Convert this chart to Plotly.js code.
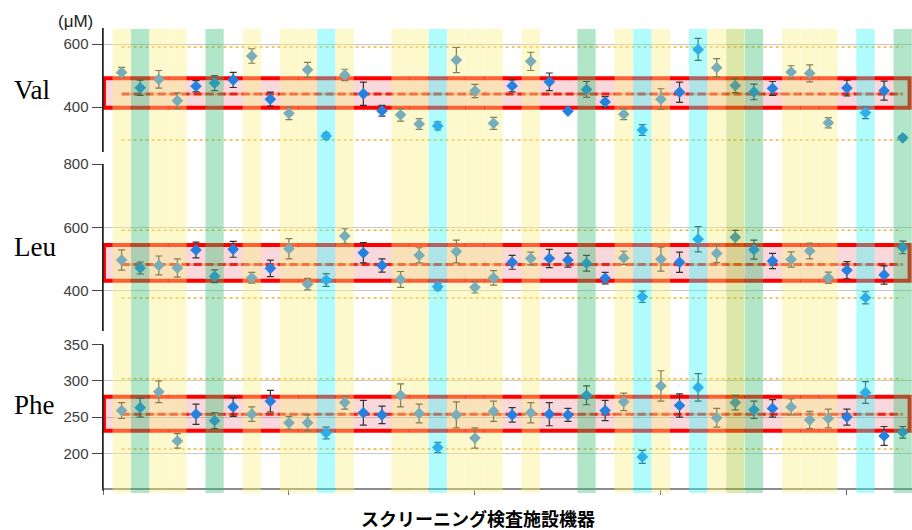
<!DOCTYPE html>
<html>
<head>
<meta charset="utf-8">
<script src="https://cdn.plot.ly/plotly-3.0.1.min.js"></script>
<style>
  html, body { margin: 0; padding: 0; background: #fff; }
  #chart { width: 912px; height: 530px; }
</style>
</head>
<body>
<div id="chart"></div>
<script>
// Instrument number on the x axis
const instruments = [1,2,3,4,5,6,7,8,9,10,11,12,13,14,15,16,17,18,19,20,21,22,23,24,25,26,27,28,29,30,31,32,33,34,35,36,37,38,39,40,41,42,43];

// Measured concentrations (μM) and error half-widths per instrument
const valValues = [510,461,488,420,466,476,486,562,425,380,518,308,502,442,388,375,346,340,549,451,348,467,545,480,387,456,416,377,327,425,447,583,525,468,448,459,511,507,350,460,382,452,302];
const valErrors = [16,24,28,25,18,24,24,23,22,20,24,10,18,37,17,20,17,13,40,21,19,19,29,28,5,25,17,17,17,33,32,35,29,22,25,22,20,27,16,25,19,30,7];

const leuValues = [497,472,480,472,529,446,531,441,471,533,421,434,573,520,480,436,512,413,524,411,441,490,502,502,497,487,440,504,381,500,490,563,518,569,530,494,499,526,441,465,378,450,537];
const leuErrors = [32,19,30,29,25,20,25,17,26,32,18,20,23,32,21,25,24,10,36,18,23,22,20,29,22,25,18,21,18,38,32,40,29,22,30,24,24,25,18,27,19,29,20];

const pheValues = [259,263,285,217,254,245,264,254,272,242,242,228,270,256,253,280,255,208,253,221,258,253,256,254,253,280,259,271,195,293,266,291,249,270,260,262,264,246,248,250,284,224,229];
const pheErrors = [11,13,15,10,14,11,13,10,15,9,11,8,9,17,12,16,13,7,18,14,14,10,14,16,9,13,14,12,9,21,16,19,13,10,12,12,11,12,13,11,15,13,8];

// Instrument group of each column (Y, G, C, O; '' = none)
const instrumentGroup = ['Y','G','Y','Y','','G','','Y','','Y','Y','C','Y','','','Y','Y','C','Y','Y','Y','','Y','','','G','','Y','C','Y','','C','Y','O','G','','Y','Y','Y','','C','','G'];

// Reference levels per analyte: Val, Leu, Phe
const panelNames = ['Val', 'Leu', 'Phe'];
const refMean  = [441, 483, 254];
const boxLow   = [398, 432, 231];
const boxHigh  = [491, 545, 278];
const limLow   = [295, 377, 206];
const limHigh  = [591, 591, 303];

const groupColor = {
  Y: 'rgb(250,240,130)',
  G: 'rgb(62,192,118)',
  C: 'rgb(58,247,247)',
  O: 'rgb(168,198,40)'
};

// vertical extent of each panel (paper fraction)
const panelDomains = [[0.7304, 1], [0.3413, 0.7043], [0, 0.312]];

const panels = [
  { y: valValues, e: valErrors, axis: 'y'  },
  { y: leuValues, e: leuErrors, axis: 'y2' },
  { y: pheValues, e: pheErrors, axis: 'y3' }
];

const xFirst = instruments[0];
const xLast = instruments[instruments.length - 1];

const traces = [];
const shapes = [];

panels.forEach((p, i) => {
  // target band
  shapes.push({
    type: 'rect', layer: 'between',
    xref: 'x', yref: p.axis,
    x0: 0.05, x1: 43.37, y0: boxLow[i], y1: boxHigh[i],
    fillcolor: 'rgba(220,60,80,0.2)',
    line: { color: '#ff0000', width: 4 }
  });
  // outer limits
  [limLow[i], limHigh[i]].forEach(v => {
    traces.push({
      type: 'scatter', mode: 'lines', xaxis: 'x', yaxis: p.axis,
      x: [xFirst, xLast], y: [v, v], hoverinfo: 'skip',
      line: { color: '#f3b23a', width: 1.5, dash: 'dot' }
    });
  });
  // mean: soft orange underlay with red dashes on top
  traces.push({
    type: 'scatter', mode: 'lines', xaxis: 'x', yaxis: p.axis,
    x: [xFirst, xLast], y: [refMean[i], refMean[i]], hoverinfo: 'skip',
    line: { color: 'rgba(245,140,90,0.75)', width: 2.5 }
  });
  traces.push({
    type: 'scatter', mode: 'lines', xaxis: 'x', yaxis: p.axis,
    x: [xFirst, xLast], y: [refMean[i], refMean[i]], hoverinfo: 'skip',
    line: { color: '#e8231c', width: 3, dash: '8px,4px' }
  });
  // measurements
  traces.push({
    type: 'scatter', mode: 'markers', xaxis: 'x', yaxis: p.axis,
    x: instruments, y: p.y,
    error_y: { type: 'data', array: p.e, visible: true, color: '#333333', thickness: 1.2, width: 3.5 },
    marker: { symbol: 'diamond', size: 9, color: '#2680e0' }
  });
  // left axis line of this panel
  shapes.push({
    type: 'line', layer: 'above', xref: 'paper', yref: 'paper',
    x0: 0, x1: 0, y0: panelDomains[i][0] - (i === 2 ? 0.006 : 0), y1: panelDomains[i][1],
    line: { color: '#222', width: 1.5 }
  });
});

// instrument group columns drawn translucent over everything
instruments.forEach((x, k) => {
  const g = instrumentGroup[k];
  if (!g) return;
  shapes.push({
    type: 'rect', layer: 'above',
    xref: 'x', yref: 'paper',
    x0: x - 0.49, x1: x + 0.49, y0: -0.011, y1: 0.998,
    fillcolor: groupColor[g], opacity: 0.4,
    line: { width: 0 }
  });
});

const yCommon = {
  anchor: 'x',
  showline: true, linecolor: '#222', linewidth: 1.5,
  ticks: 'outside', ticklen: 10, tickcolor: '#444', tickwidth: 1,
  tickfont: { family: 'Liberation Sans, Arial, sans-serif', size: 15, color: '#3c3c3c' },
  showgrid: true, gridcolor: '#c8c8c8', gridwidth: 1,
  zeroline: false, fixedrange: true
};

const layout = {
  width: 912, height: 530,
  margin: { l: 103, r: 0, t: 28, b: 42, pad: 0 },
  paper_bgcolor: '#ffffff', plot_bgcolor: '#ffffff',
  showlegend: false,
  xaxis: {
    anchor: 'y3', domain: [0, 1], range: [0, 43.5],
    showline: true, linecolor: '#8c8c8c', linewidth: 1.5,
    ticks: 'outside', tickvals: [0, 10, 20, 30, 40], ticklen: 5, tickcolor: '#666',
    showticklabels: false, showgrid: false, zeroline: false, fixedrange: true
  },
  yaxis:  Object.assign({}, yCommon, { domain: panelDomains[0], range: [257, 651],   tick0: 0, dtick: 200 }),
  yaxis2: Object.assign({}, yCommon, { domain: panelDomains[1], range: [273, 800.5], tick0: 0, dtick: 200 }),
  yaxis3: Object.assign({}, yCommon, { domain: panelDomains[2], range: [152, 350.3], tick0: 0, dtick: 50 }),
  shapes: shapes,
  annotations: [
    { text: panelNames[0], xref: 'paper', yref: 'paper', x: -0.113, y: 0.865, xanchor: 'left', yanchor: 'middle', showarrow: false,
      font: { family: 'Liberation Serif, Times New Roman, serif', size: 27, color: '#000' } },
    { text: panelNames[1], xref: 'paper', yref: 'paper', x: -0.113, y: 0.524, xanchor: 'left', yanchor: 'middle', showarrow: false,
      font: { family: 'Liberation Serif, Times New Roman, serif', size: 27, color: '#000' } },
    { text: panelNames[2], xref: 'paper', yref: 'paper', x: -0.113, y: 0.180, xanchor: 'left', yanchor: 'middle', showarrow: false,
      font: { family: 'Liberation Serif, Times New Roman, serif', size: 27, color: '#000' } },
    { text: '(μM)', xref: 'paper', yref: 'paper', x: -0.0346, y: 1.015, xanchor: 'center', yanchor: 'middle', showarrow: false,
      font: { family: 'Liberation Sans, Arial, sans-serif', size: 17, color: '#222' } },
    { text: '<b>スクリーニング検査施設機器</b>', xref: 'paper', yref: 'paper', x: 0.4635, y: -0.065, xanchor: 'center', yanchor: 'middle', showarrow: false,
      font: { family: 'Noto Sans CJK JP, sans-serif', size: 18, color: '#000' } }
  ]
};

Plotly.newPlot('chart', traces, layout, { displayModeBar: false, staticPlot: true });
</script>
</body>
</html>
